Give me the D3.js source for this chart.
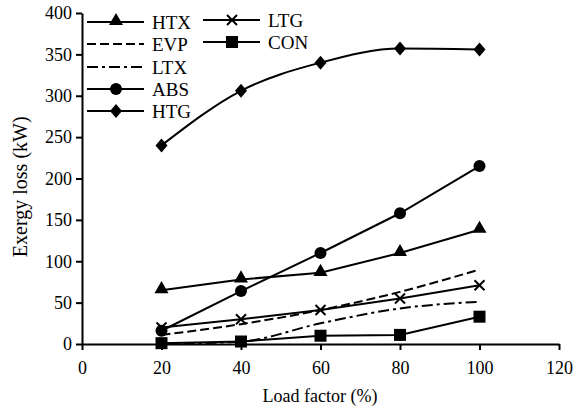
<!DOCTYPE html>
<html>
<head>
<meta charset="utf-8">
<script src="https://cdn.jsdelivr.net/npm/d3@7"></script>
<style>
  body { margin: 0; background: white; }
  svg { display: block; }
  svg text { font-family: 'Liberation Serif', 'Times New Roman', serif; }
</style>
</head>
<body>
<div id="chart"></div>
<script>
const width = 581
const height = 410
const fontSize = 18

// load factor (%) on the x axis
const loadFactor = [20, 40, 60, 80, 100]
// exergy loss (kW) per component
const HTX = [65, 78, 86, 110, 138]
const EVP = [11, 24, 41, 63, 90]
const LTX = [0, 3, 25, 43, 51]
const ABS = [16, 64, 110, 158, 215]
const HTG = [240, 306, 340, 357, 356]
const LTG = [20, 30, 41, 55, 71]
const CON = [1, 3, 10, 11, 33]

const xTicks = [0, 20, 40, 60, 80, 100, 120]
const yTicks = [0, 50, 100, 150, 200, 250, 300, 350, 400]

const series = [
	{name: 'HTX', values: HTX, marker: 'triangle', dash: null, curve: d3.curveLinear},
	{name: 'EVP', values: EVP, marker: null, dash: '9,4', curve: d3.curveMonotoneX},
	{name: 'LTX', values: LTX, marker: null, dash: '11,4,3,4', curve: d3.curveMonotoneX},
	{name: 'ABS', values: ABS, marker: 'circle', dash: null, curve: d3.curveLinear},
	{name: 'HTG', values: HTG, marker: 'diamond', dash: null, curve: d3.curveMonotoneX},
	{name: 'LTG', values: LTG, marker: 'cross', dash: null, curve: d3.curveLinear},
	{name: 'CON', values: CON, marker: 'square', dash: null, curve: d3.curveLinear}
]

var svg = d3.select('#chart').append('svg')
	.attr('width', width)
	.attr('height', height)
	.style('font-size', fontSize + 'px')

var x = d3.scaleLinear().domain([0, 120]).range([82, 559])
var y = d3.scaleLinear().domain([0, 400]).range([344, 13])

// axes
var xAxis = svg.append('g')
	.attr('transform', 'translate(0,' + y(0) + ')')
	.call(d3.axisBottom(x).tickValues(xTicks).tickSize(6).tickSizeOuter(0).tickPadding(11))
var yAxis = svg.append('g')
	.attr('transform', 'translate(' + x(0) + ',0)')
	.call(d3.axisLeft(y).tickValues(yTicks).tickSize(6).tickSizeOuter(0).tickPadding(4))
svg.selectAll('g').attr('font-family', null).attr('font-size', null)
svg.selectAll('.domain, .tick line').attr('stroke', 'black').attr('stroke-width', 2)
svg.selectAll('.tick text').attr('fill', 'black')

svg.append('text')
	.attr('x', 320).attr('y', 402)
	.attr('text-anchor', 'middle')
	.text('Load factor (%)')
svg.append('text')
	.attr('transform', 'translate(27,' + y(190) + ') rotate(-90)')
	.attr('text-anchor', 'middle')
	.style('font-size', '20px')
	.text('Exergy loss (kW)')

function drawMarker(g, type, cx, cy) {
	if (type == 'triangle') {
		g.append('path').attr('d', d3.symbol(d3.symbolTriangle, 85)()).attr('transform', 'translate(' + cx + ',' + (cy - 1) + ')')
	} else if (type == 'circle') {
		g.append('circle').attr('cx', cx).attr('cy', cy).attr('r', 6)
	} else if (type == 'diamond') {
		g.append('path').attr('d', 'M0,-7L6,0L0,7L-6,0Z').attr('transform', 'translate(' + cx + ',' + cy + ')')
	} else if (type == 'square') {
		g.append('rect').attr('x', cx - 6).attr('y', cy - 6).attr('width', 12).attr('height', 12)
	} else if (type == 'cross') {
		g.append('path').attr('d', 'M-5,-5L5,5M-5,5L5,-5')
			.attr('transform', 'translate(' + cx + ',' + cy + ')')
			.attr('stroke', 'black').attr('stroke-width', 2).attr('fill', 'none')
	}
}

// lines
var plot = svg.append('g')
series.forEach(s => {
	var line = d3.line().x((d, i) => x(loadFactor[i])).y(d => y(d)).curve(s.curve)
	plot.append('path')
		.attr('d', line(s.values))
		.attr('fill', 'none')
		.attr('stroke', 'black')
		.attr('stroke-width', 2)
		.attr('stroke-dasharray', s.dash)
})
series.forEach(s => {
	if (!s.marker) return
	var mg = plot.append('g').attr('fill', 'black')
	s.values.forEach((v, i) => drawMarker(mg, s.marker, x(loadFactor[i]), y(v)))
})

// legend, two columns
var legendPos = {
	HTX: [87, 22], EVP: [87, 44], LTX: [87, 67], ABS: [87, 89], HTG: [87, 111],
	LTG: [203, 20], CON: [203, 42]
}
series.forEach(s => {
	var p = legendPos[s.name]
	var lg = svg.append('g').attr('transform', 'translate(' + p[0] + ',' + p[1] + ')')
	lg.append('line')
		.attr('x1', 0).attr('x2', 57)
		.attr('stroke', 'black').attr('stroke-width', 2)
		.attr('stroke-dasharray', s.dash)
	if (s.marker) drawMarker(lg.append('g').attr('fill', 'black'), s.marker, 29, 0)
	lg.append('text')
		.attr('x', 65).attr('dy', '0.35em')
		.style('font-size', '19px')
		.text(s.name)
})
</script>
</body>
</html>
